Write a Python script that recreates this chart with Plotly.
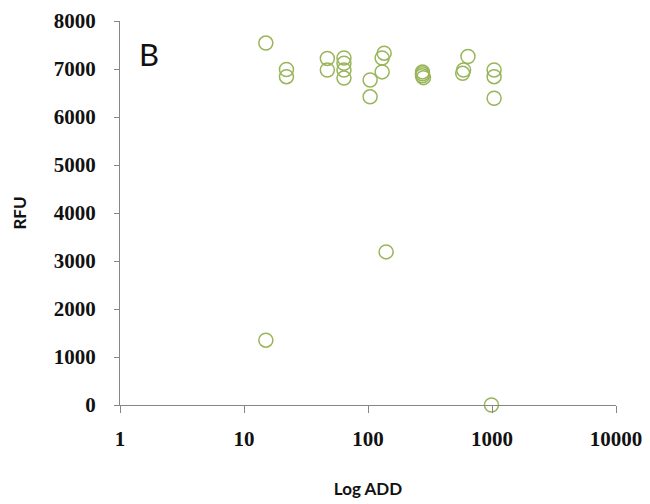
import plotly.graph_objects as go

# Data (Log ADD vs RFU)
log_add = [15, 15, 22, 22, 47, 47, 64, 64, 64, 64, 104, 104, 130, 135, 130, 140,
           275, 275, 275, 280, 590, 580, 640, 1040, 1040, 1040, 990]
rfu = [7540, 1350, 6990, 6840, 7220, 6980, 7230, 7120, 6980, 6810, 6770, 6420,
       7230, 7330, 6940, 3190, 6940, 6900, 6860, 6820, 6980, 6910, 7260,
       6980, 6840, 6390, 0]

x_ticks = [1, 10, 100, 1000, 10000]
x_tick_labels = ["1", "10", "100", "1000", "10000"]
y_ticks = [0, 1000, 2000, 3000, 4000, 5000, 6000, 7000, 8000]

fig = go.Figure()
fig.add_trace(go.Scatter(
    x=log_add, y=rfu, mode="markers",
    marker=dict(symbol="circle-open", size=14, color="#98b55a",
                line=dict(width=1.5, color="#98b55a")),
    cliponaxis=False, showlegend=False,
))

tick_font = dict(family="Liberation Serif", size=21, color="#111111", weight="bold")

fig.update_layout(
    width=650, height=504,
    margin=dict(l=120, r=34, t=21, b=99, autoexpand=False),
    paper_bgcolor="white", plot_bgcolor="white",
    xaxis=dict(
        type="log", range=[0, 4], tickvals=x_ticks, ticktext=x_tick_labels,
        showgrid=False, zeroline=False, showline=True, linecolor="#868686",
        linewidth=1.3, ticks="outside", ticklen=7, tickcolor="#868686",
        tickfont=tick_font, ticklabelstandoff=8, automargin=False,
        title=dict(text="Log ADD", font=dict(family="Lato", size=17, color="#111111", weight="bold"),
                   standoff=32),
    ),
    yaxis=dict(
        range=[0, 8000], tickvals=y_ticks,
        showgrid=False, zeroline=False, showline=True, linecolor="#868686",
        linewidth=1.3, ticks="outside", ticklen=5, tickcolor="#868686",
        tickfont=tick_font, ticklabelstandoff=14, automargin=False,
        title=dict(text="RFU", font=dict(family="Lato", size=17, color="#111111", weight="bold"),
                   standoff=22),
    ),
)

# "B" panel label, positioned in paper coordinates
pw = 650 - 120 - 34
ph = 504 - 21 - 99
fig.add_annotation(text="B", x=(149 - 120) / pw, y=(405 - 54) / ph,
                   xref="paper", yref="paper", xanchor="center", yanchor="middle",
                   showarrow=False, font=dict(family="Lato", size=31, color="#111111"))

fig.write_html("out.html")
